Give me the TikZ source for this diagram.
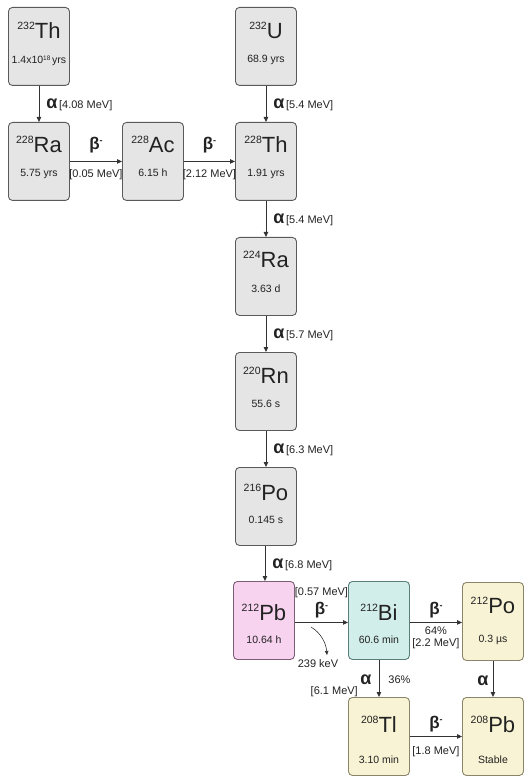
\documentclass[tikz,border=0pt]{standalone}
\usepackage{fontspec}
\setmainfont{Liberation Sans}
\usetikzlibrary{arrows.meta}
\definecolor{gfill}{HTML}{E5E5E5}
\definecolor{gline}{HTML}{5A5A5A}
\definecolor{pfill}{HTML}{F8D3F0}
\definecolor{pline}{HTML}{7E5E76}
\definecolor{tfill}{HTML}{D2EEEA}
\definecolor{tline}{HTML}{5A7E7A}
\definecolor{yfill}{HTML}{F8F3D4}
\definecolor{yline}{HTML}{8A8468}
\definecolor{arr}{HTML}{333333}
\definecolor{txt}{HTML}{222222}
\newcommand\iso[2]{\raisebox{9pt}{\fontsize{10.5}{12}\selectfont #1}{\fontsize{22}{24}\selectfont #2}}
\newcommand\half[1]{{\fontsize{10.5}{12}\selectfont #1}}
\newcommand\alp{{\fontsize{18}{18}\selectfont\bfseries α}}
\newcommand\bet{{\fontsize{17}{18}\selectfont\bfseries β\raisebox{6pt}{\fontsize{9}{9}\selectfont -}}}
\newcommand\lab[1]{{\fontsize{11}{12}\selectfont #1}}
\begin{document}
\begin{tikzpicture}[x=1pt,y=-1pt,
  nbox/.style={rounded corners=4pt, line width=0.9pt, minimum width=61pt,
    minimum height=78pt, inner sep=0pt, anchor=north west},
  grey/.style={nbox, draw=gline, fill=gfill},
  pink/.style={nbox, draw=pline, fill=pfill},
  teal/.style={nbox, draw=tline, fill=tfill},
  yell/.style={nbox, draw=yline, fill=yfill},
  txtn/.style={inner sep=0pt, anchor=base, text=txt},
  conn/.style={draw=arr, line width=0.9pt, -{Triangle[length=5pt,width=4.5pt]}},
  lbl/.style={inner sep=0pt, text=txt}
]
\useasboundingbox (0,0) rectangle (528,783);
% boxes
\node[grey] (th232) at (8,7) {};
\node[grey] (ra228) at (8,122) {};
\node[grey] (ac228) at (122,122) {};
\node[grey] (u232) at (235,7) {};
\node[grey] (th228) at (235,122) {};
\node[grey] (ra224) at (235,237) {};
\node[grey] (rn220) at (235,352) {};
\node[grey] (po216) at (235,467) {};
\node[pink] (pb212) at (233,581) {};
\node[teal] (bi212) at (348,581) {};
\node[yell] (po212) at (462,582) {};
\node[yell] (tl208) at (348,697) {};
\node[yell] (pb208) at (462,697) {};
% texts
\node[txtn] (th232a) at ([yshift=-32pt]th232.north) {\iso{232}{Th}};
\node[txtn] (th232b) at ([yshift=-57pt]th232.north) {\half{1.4x10\raisebox{3.5pt}{\fontsize{6.5}{6.5}\selectfont 18}\,yrs}};
\node[txtn] (ra228a) at ([yshift=-31pt]ra228.north) {\iso{228}{Ra}};
\node[txtn] (ra228b) at ([yshift=-55pt]ra228.north) {\half{5.75 yrs}};
\node[txtn] (ac228a) at ([yshift=-31pt]ac228.north) {\iso{228}{Ac}};
\node[txtn] (ac228b) at ([yshift=-55pt]ac228.north) {\half{6.15 h}};
\node[txtn] (u232a) at ([yshift=-32pt]u232.north) {\iso{232}{U}};
\node[txtn] (u232b) at ([yshift=-56pt]u232.north) {\half{68.9 yrs}};
\node[txtn] (th228a) at ([yshift=-31pt]th228.north) {\iso{228}{Th}};
\node[txtn] (th228b) at ([yshift=-55pt]th228.north) {\half{1.91 yrs}};
\node[txtn] (ra224a) at ([yshift=-30pt]ra224.north) {\iso{224}{Ra}};
\node[txtn] (ra224b) at ([yshift=-55pt]ra224.north) {\half{3.63 d}};
\node[txtn] (rn220a) at ([yshift=-31pt]rn220.north) {\iso{220}{Rn}};
\node[txtn] (rn220b) at ([yshift=-55pt]rn220.north) {\half{55.6 s}};
\node[txtn] (po216a) at ([yshift=-33pt]po216.north) {\iso{216}{Po}};
\node[txtn] (po216b) at ([yshift=-56pt]po216.north) {\half{0.145 s}};
\node[txtn] (pb212a) at ([yshift=-39pt]pb212.north) {\iso{212}{Pb}};
\node[txtn] (pb212b) at ([yshift=-62pt]pb212.north) {\half{10.64 h}};
\node[txtn] (bi212a) at ([yshift=-39pt]bi212.north) {\iso{212}{Bi}};
\node[txtn] (bi212b) at ([yshift=-62pt]bi212.north) {\half{60.6 min}};
\node[txtn] (po212a) at ([yshift=-31pt]po212.north) {\iso{212}{Po}};
\node[txtn] (po212b) at ([yshift=-60pt]po212.north) {\half{0.3 µs}};
\node[txtn] (tl208a) at ([yshift=-35pt]tl208.north) {\iso{208}{Tl}};
\node[txtn] (tl208b) at ([yshift=-66pt]tl208.north) {\half{3.10 min}};
\node[txtn] (pb208a) at ([yshift=-35pt]pb208.north) {\iso{208}{Pb}};
\node[txtn] (pb208b) at ([yshift=-66pt]pb208.north) {\half{Stable}};
% vertical alpha connectors
\draw[conn] (th232) -- node[lbl, midway, anchor=west, xshift=7pt, yshift=-1pt] {\alp\,\lab{[4.08 MeV]}} (ra228);
\draw[conn] (u232) -- node[lbl, midway, anchor=west, xshift=7pt, yshift=-1pt] {\alp\,\lab{[5.4 MeV]}} (th228);
\draw[conn] (th228) -- node[lbl, midway, anchor=west, xshift=7pt, yshift=-1pt] {\alp\,\lab{[5.4 MeV]}} (ra224);
\draw[conn] (ra224) -- node[lbl, midway, anchor=west, xshift=7pt, yshift=-1pt] {\alp\,\lab{[5.7 MeV]}} (rn220);
\draw[conn] (rn220) -- node[lbl, midway, anchor=west, xshift=7pt, yshift=-1pt] {\alp\,\lab{[6.3 MeV]}} (po216);
\coordinate (pot) at ([xshift=-1pt]po216.south);
\draw[conn] (pot) -- node[lbl, midway, anchor=west, xshift=7pt, yshift=-1pt] {\alp\,\lab{[6.8 MeV]}} (pot |- pb212.north);
% horizontal beta connectors
\draw[conn] (ra228) -- node[lbl, midway, above=8pt] {\bet} node[lbl, midway, below=8pt] {\lab{[0.05 MeV]}} (ac228);
\draw[conn] (ac228) -- node[lbl, midway, above=8pt] {\bet} node[lbl, midway, below=8pt] {\lab{[2.12 MeV]}} (th228);
\coordinate (pbr) at ([yshift=-2pt]pb212.east);
\draw[conn] (pbr) -- node[lbl, midway, above=4pt] (b1) {\bet} (bi212.west |- pbr);
\node[lbl, above=4pt] (b1l) at (b1.north) {\lab{[0.57 MeV]}};
\coordinate (bir) at ([yshift=-2pt]bi212.east);
\draw[conn] (bir) -- node[lbl, midway, above=4pt] {\bet} node[lbl, midway, below=4pt] (p64) {\lab{64\%}} (po212.west |- bir);
\node[lbl, below=3pt] (p64l) at (p64.south) {\lab{[2.2 MeV]}};
\draw[conn] (tl208) -- node[lbl, midway, above=4pt] {\bet} node[lbl, midway, below=10pt] {\lab{[1.8 MeV]}} (pb208);
% branch alpha
\draw[conn] (bi212) -- node[lbl, midway, anchor=east, xshift=-7pt, yshift=-1pt] (a2) {\alp} node[lbl, midway, anchor=west, xshift=9pt, yshift=-1pt] {\lab{36\%}} (tl208);
\node[lbl, anchor=north east] (a2l) at ([xshift=-2pt, yshift=-1pt]a2.south west) {\lab{[6.1 MeV]}};
\draw[conn] (po212) -- node[lbl, midway, anchor=east, xshift=-4pt, yshift=-2pt] {\alp} (pb208);
% gamma curved arrow
\coordinate (gs) at (311,627);
\coordinate (ge) at (327,655);
\draw[draw=arr, line width=0.6pt, -{Triangle[length=4pt,width=3.5pt]}] (gs) .. controls (321,633) and (326,643) .. (ge);
\node[lbl] (gam) at (318,664) {\lab{239 keV}};
\end{tikzpicture}
\end{document}
